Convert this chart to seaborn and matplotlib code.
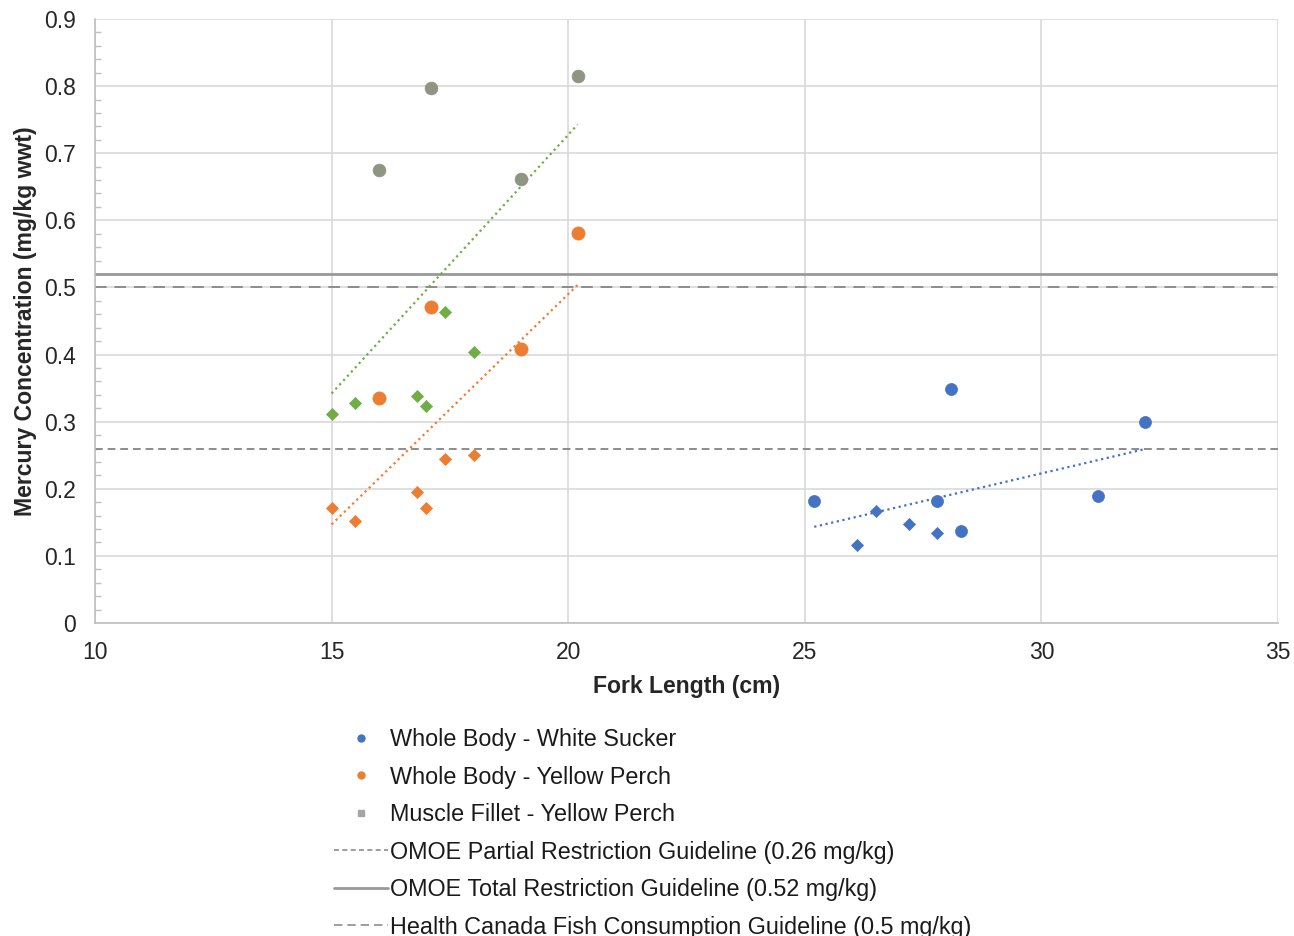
import matplotlib
matplotlib.use("Agg")
import matplotlib.pyplot as plt
import seaborn as sns
import numpy as np
import pandas as pd
from matplotlib.ticker import MultipleLocator
from matplotlib.lines import Line2D

# ---- data ----
ws_circ_x = [25.2, 28.1, 27.8, 28.3, 31.2, 32.2]
ws_circ_y = [0.182, 0.349, 0.182, 0.137, 0.189, 0.300]
ws_diam_x = [26.1, 26.5, 27.2, 27.8]
ws_diam_y = [0.116, 0.167, 0.148, 0.134]

yp_circ_x = [16.0, 17.1, 19.0, 20.2]
yp_circ_y = [0.335, 0.471, 0.408, 0.581]
yp_diam_x = [15.0, 15.5, 16.8, 17.0, 17.4, 18.0]
yp_diam_y = [0.171, 0.152, 0.195, 0.171, 0.244, 0.250]

mf_circ_x = [16.0, 17.1, 19.0, 20.2]
mf_circ_y = [0.675, 0.797, 0.661, 0.815]
mf_diam_x = [15.0, 15.5, 16.8, 17.0, 17.4, 18.0]
mf_diam_y = [0.311, 0.328, 0.338, 0.323, 0.463, 0.404]

guide_partial = 0.26
guide_total = 0.52
guide_hc = 0.5

series_labels = ["Whole Body - White Sucker", "Whole Body - Yellow Perch",
                 "Muscle Fillet - Yellow Perch"]
guide_labels = ["OMOE Partial Restriction Guideline (0.26 mg/kg)",
                "OMOE Total Restriction Guideline (0.52 mg/kg)",
                "Health Canada Fish Consumption Guideline (0.5 mg/kg)"]

sns.set_theme(style="white")
plt.rcParams['font.family'] = ['Liberation Sans', 'DejaVu Sans']

fig = plt.figure(figsize=(12.94, 9.36), dpi=100)
ax = fig.add_axes([0.0734, 0.3344, 0.9142, 0.6453])

c_blue = "#4472C4"
c_orange = "#ED7D31"
c_green = "#70AD47"
c_gray = "#8E9681"

def scat(x, y, color, marker, size):
    sns.scatterplot(x=x, y=y, color=color, marker=marker, s=size, ax=ax,
                    edgecolor=color, linewidth=0.5, legend=False, zorder=4)

scat(ws_circ_x, ws_circ_y, c_blue, "o", 75)
scat(ws_diam_x, ws_diam_y, c_blue, "D", 38)
scat(yp_circ_x, yp_circ_y, c_orange, "o", 90)
scat(yp_diam_x, yp_diam_y, c_orange, "D", 38)
scat(mf_circ_x, mf_circ_y, c_gray, "o", 85)
scat(mf_diam_x, mf_diam_y, c_green, "D", 38)

# trend lines (linear fits over all points of each group)
def trend(xs, ys, color):
    df = pd.DataFrame({"x": xs, "y": ys})
    sns.regplot(data=df, x="x", y="y", ax=ax, scatter=False, ci=None, truncate=True,
                line_kws=dict(color=color, linestyle=(0, (1, 1.6)), linewidth=1.6, zorder=3))

trend(ws_circ_x + ws_diam_x, ws_circ_y + ws_diam_y, c_blue)
trend(yp_circ_x + yp_diam_x, yp_circ_y + yp_diam_y, c_orange)
trend(mf_circ_x + mf_diam_x, mf_circ_y + mf_diam_y, c_green)

ax.axhline(guide_partial, color="#8C8C8C", linestyle=(0, (4, 2.5)), linewidth=1.4, zorder=2)
ax.axhline(guide_total, color="#999999", linestyle="-", linewidth=2.0, zorder=2)
ax.axhline(guide_hc, color="#8C8C8C", linestyle=(0, (6, 4)), linewidth=1.4, zorder=2)

ax.set_xlim(10, 35)
ax.set_ylim(0, 0.9)
ax.xaxis.set_major_locator(MultipleLocator(5))
ax.yaxis.set_major_locator(MultipleLocator(0.1))
ax.yaxis.set_minor_locator(MultipleLocator(0.02))
ax.set_yticklabels([("0" if abs(v) < 1e-9 else f"{v:.1f}") for v in ax.get_yticks()])
ax.grid(True, which="major", color="#D9D9D9", linewidth=1.2)
ax.set_axisbelow(True)
for s in ["top", "right"]:
    ax.spines[s].set_visible(False)
for s in ["left", "bottom"]:
    ax.spines[s].set_color("#BFBFBF")
    ax.spines[s].set_linewidth(1.2)
ax.tick_params(axis="both", which="major", labelsize=16.5, length=0)
ax.tick_params(axis="x", which="major", pad=13)
ax.tick_params(axis="y", which="major", pad=14)
ax.tick_params(axis="y", which="minor", direction="in", length=4, color="#BFBFBF", left=True)
for lab in ax.get_xticklabels() + ax.get_yticklabels():
    lab.set_color("#262626")

ax.set_xlabel("Fork Length (cm)", fontsize=16.6, fontweight="bold", color="#262626", labelpad=8)
ax.set_ylabel("Mercury Concentration (mg/kg wwt)", fontsize=16.6, fontweight="bold",
              color="#262626", labelpad=5)

handles = [
    Line2D([], [], linestyle="none", marker="o", markersize=5, color=c_blue),
    Line2D([], [], linestyle="none", marker="o", markersize=5, color=c_orange),
    Line2D([], [], linestyle="none", marker="s", markersize=5, color="#A5A5A5"),
    Line2D([], [], color="#8C8C8C", linestyle=(0, (3, 2)), linewidth=1.2),
    Line2D([], [], color="#999999", linestyle="-", linewidth=2.0),
    Line2D([], [], color="#8C8C8C", linestyle=(0, (5, 3)), linewidth=1.2),
]
leg = fig.legend(handles, series_labels + guide_labels, loc="upper left",
                 bbox_to_anchor=(0.251, 0.232), frameon=False, fontsize=16.8,
                 handlelength=2.3, handletextpad=0.1, labelspacing=0.62, borderaxespad=0)
for t in leg.get_texts():
    t.set_color("#1a1a1a")

fig.savefig("out.png", dpi=100)
